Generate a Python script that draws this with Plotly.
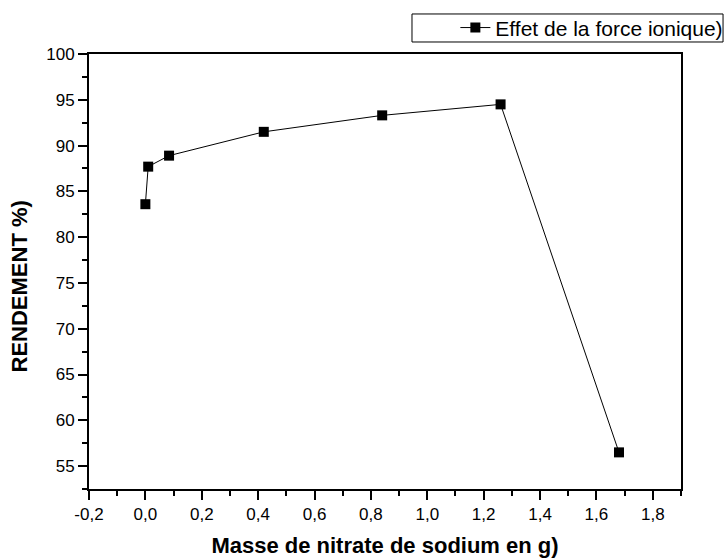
import plotly.graph_objects as go

masse = [0.0, 0.01, 0.084, 0.42, 0.84, 1.26, 1.68]
rendement = [83.6, 87.7, 88.9, 91.5, 93.3, 94.5, 56.5]
series_name = "Effet de la force ionique)"
x_ticks = [-0.2, 0.0, 0.2, 0.4, 0.6, 0.8, 1.0, 1.2, 1.4, 1.6, 1.8]
x_labels = ["-0,2", "0,0", "0,2", "0,4", "0,6", "0,8", "1,0", "1,2", "1,4", "1,6", "1,8"]
y_ticks = [55, 60, 65, 70, 75, 80, 85, 90, 95, 100]

fig = go.Figure()
fig.add_trace(go.Scatter(
    x=masse, y=rendement, mode="lines+markers", name=series_name,
    line=dict(color="black", width=1),
    marker=dict(symbol="square", size=10, color="black"),
))

font = "Liberation Sans, Arial, sans-serif"
# legend frame
fig.add_shape(type="rect", xref="paper", yref="paper",
              x0=0.5456, x1=1.071, y0=1.0276, y1=1.092,
              line=dict(color="black", width=1), fillcolor="white", layer="below")
# y-axis title (placed slightly below plot centre as in reference)
fig.add_annotation(text="<b>RENDEMENT %)</b>", textangle=-90, showarrow=False,
                   xref="paper", yref="paper", x=0, xshift=-69, xanchor="center",
                   y=0.4655, yanchor="middle", font=dict(size=22, family=font, color="black"))
fig.update_layout(
    width=727, height=558,
    margin=dict(l=89, r=46, t=54, b=69, autoexpand=False),
    paper_bgcolor="white", plot_bgcolor="white",
    font=dict(family=font, color="black", size=17),
    showlegend=True,
    legend=dict(x=1.080, y=1.06, xanchor="right", yanchor="middle",
                borderwidth=0, bgcolor="rgba(0,0,0,0)",
                font=dict(size=21, family=font), itemwidth=30,
                tracegroupgap=0),
    xaxis=dict(range=[-0.2, 1.9], tickvals=x_ticks, ticktext=x_labels,
               showline=True, linecolor="black", linewidth=2, mirror=True,
               ticks="outside", ticklen=9, tickwidth=2, tickcolor="black",
               showgrid=False, zeroline=False, automargin=False,
               minor=dict(ticks="outside", ticklen=5, tickwidth=2, dtick=0.1, tick0=0, tickcolor="black", showgrid=False),
               tickfont=dict(size=17),
               title=dict(text="<b>Masse de nitrate de sodium en g)</b>", font=dict(size=22), standoff=14)),
    yaxis=dict(range=[52.5, 100], tickvals=y_ticks,
               showline=True, linecolor="black", linewidth=2, mirror=True,
               ticks="outside", ticklen=9, tickwidth=2, tickcolor="black",
               showgrid=False, zeroline=False, automargin=False,
               minor=dict(ticks="outside", ticklen=5, tickwidth=2, dtick=2.5, tick0=0, tickcolor="black", showgrid=False),
               tickfont=dict(size=17)),
)
fig.write_html("out.html")
